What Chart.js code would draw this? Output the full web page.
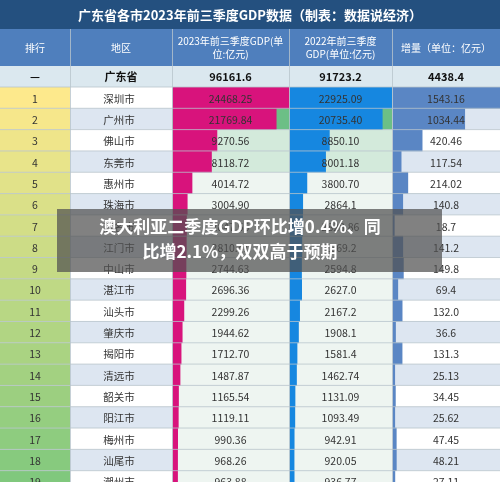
<!DOCTYPE html><html><head><meta charset="utf-8">
<script src="https://cdn.jsdelivr.net/npm/chart.js@4"></script>
<style>html,body{margin:0;padding:0;overflow:hidden;width:500px;height:482px;background:#fff}</style></head>
<body><canvas id="c" width="500" height="492"></canvas>
<script>
const title='广东省各市2023年前三季度GDP数据（制表：数据说经济）';
const headers=['排行','地区','2023年前三季度GDP(单|位:亿元)','2022年前三季度|GDP(单位:亿元)','增量（单位：亿元）'];
const totalRow=['—','广东省','96161.6','91723.2','4438.4'];
const ranks=['1','2','3','4','5','6','7','8','9','10','11','12','13','14','15','16','17','18','19'];
const cities=['深圳市','广州市','佛山市','东莞市','惠州市','珠海市','茂名市','江门市','中山市','湛江市','汕头市','肇庆市','揭阳市','清远市','韶关市','阳江市','梅州市','汕尾市','潮州市'];
const gdp2023=[24468.25,21769.84,9270.56,8118.72,4014.72,3004.90,2847.56,2810.41,2744.63,2696.36,2299.26,1944.62,1712.70,1487.87,1165.54,1119.11,990.36,968.26,963.88];
const gdp2022=[22925.09,20735.40,8850.10,8001.18,3800.70,2864.1,2828.86,2669.2,2594.8,2627.0,2167.2,1908.1,1581.4,1462.74,1131.09,1093.49,942.91,920.05,936.77];
const growth=[1543.16,1034.44,420.46,117.54,214.02,140.8,18.7,141.2,149.8,69.4,132.0,36.6,131.3,25.13,34.45,25.62,47.45,48.21,27.11];
const label2023=['24468.25','21769.84','9270.56','8118.72','4014.72','3004.90','2847.56','2810.41','2744.63','2696.36','2299.26','1944.62','1712.70','1487.87','1165.54','1119.11','990.36','968.26','963.88'];
const label2022=['22925.09','20735.40','8850.10','8001.18','3800.70','2864.1','2828.86','2669.2','2594.8','2627.0','2167.2','1908.1','1581.4','1462.74','1131.09','1093.49','942.91','920.05','936.77'];
const labelG=['1543.16','1034.44','420.46','117.54','214.02','140.8','18.7','141.2','149.8','69.4','132.0','36.6','131.3','25.13','34.45','25.62','47.45','48.21','27.11'];

const cols=[0,70,172,289,392,500];
function axisFor(left,right,maxv){const u=maxv/(right-left);return {type:'linear',display:false,min:-left*u,max:(500-left)*u};}
const FONT='"Noto Sans CJK SC","Noto Sans",sans-serif';
function lerp(a,b,t){return Math.round(a+(b-a)*t);}
function rankColor(i){const t=i/18;return `rgb(${lerp(253,128,t)},${lerp(233,200,t)},${lerp(140,125,t)})`;}

const tablePlugin={id:'table',
beforeDatasetsDraw(ch){const c=ch.ctx,y=ch.scales.y;c.save();
 // title & header
 c.fillStyle='#24507f';c.fillRect(0,0,500,29);
 c.fillStyle='#4f7fbd';c.fillRect(0,29,500,37);
 c.fillStyle='#dbe8ef';c.fillRect(0,66,500,21);
 ranks.forEach((r,i)=>{const yc=y.getPixelForValue(i),h=21.3,t=yc-h/2;
  c.fillStyle=rankColor(i);c.fillRect(0,t,70,h);
  const alt=i%2===1;
  c.fillStyle=alt?'#dde6f1':'#ffffff';c.fillRect(70,t,102,h);
  c.fillStyle=i===1?'#6cbf86':(i<4?'#d3eadb':'#eef5f1');c.fillRect(172,t,117,h);c.fillRect(289,t,103,h);
  c.fillStyle=alt?'#dde6f1':'#ffffff';c.fillRect(392,t,108,h);
 });
 c.restore();},
afterDatasetsDraw(ch){const c=ch.ctx,y=ch.scales.y;c.save();
 c.textAlign='center';c.textBaseline='middle';
 c.fillStyle='#fff';c.font='bold 13px '+FONT;c.fillText(title,250,15);
 c.font='10px '+FONT;
 headers.forEach((h,k)=>{const xc=(cols[k]+cols[k+1])/2;const ls=h.split('|');
  ls.forEach((l,j)=>c.fillText(l,xc,48+(j-(ls.length-1)/2)*13));});
 c.fillStyle='#111';c.font='bold 11px '+FONT;
 totalRow.forEach((t,k)=>c.fillText(t,(cols[k]+cols[k+1])/2,77));
 c.font='10.5px '+FONT;c.fillStyle='#333';
 ranks.forEach((r,i)=>{const yc=y.getPixelForValue(i);
  [r,cities[i],label2023[i],label2022[i],labelG[i]].forEach((t,k)=>c.fillText(t,(cols[k]+cols[k+1])/2+(k===1?-2:0),yc+1));});
 c.strokeStyle='#b8c4cc';c.lineWidth=0.8;
 for(let k=1;k<5;k++){c.beginPath();c.moveTo(cols[k]+.5,29);c.lineTo(cols[k]+.5,492);c.stroke();}
 ranks.forEach((r,i)=>{const b=y.getPixelForValue(i)+10.65;c.beginPath();c.moveTo(0,b);c.lineTo(500,b);c.stroke();});
 c.beginPath();c.moveTo(0,87);c.lineTo(500,87);c.stroke();
 // overlay banner
 c.fillStyle='rgba(80,80,80,0.72)';c.fillRect(57,209,385,63);
 c.fillStyle='#fff';c.font='bold 17px '+FONT;
 c.fillText('澳大利亚二季度GDP环比增0.4%、同',240,227);
 c.fillText('比增2.1%，双双高于预期',240,252);
 c.restore();}};

new Chart(document.getElementById('c'),{type:'bar',
data:{labels:ranks,datasets:[
 {data:gdp2023,xAxisID:'x1',backgroundColor:'#d8137c'},
 {data:gdp2022,xAxisID:'x2',backgroundColor:'#1687e0'},
 {data:growth,xAxisID:'x3',backgroundColor:'#5a86c4'}]},
options:{indexAxis:'y',responsive:false,animation:false,devicePixelRatio:1,
 layout:{padding:{top:87,left:0,right:0,bottom:0}},
 datasets:{bar:{barPercentage:1,categoryPercentage:1,grouped:false,base:0}},
 plugins:{legend:{display:false},tooltip:{enabled:false}},
 scales:{y:{display:false},
  x1:axisFor(173,289,24468.25),x2:axisFor(290,392,22925.09),x3:axisFor(393,500,1543.16)}},
plugins:[tablePlugin]});
</script></body></html>
